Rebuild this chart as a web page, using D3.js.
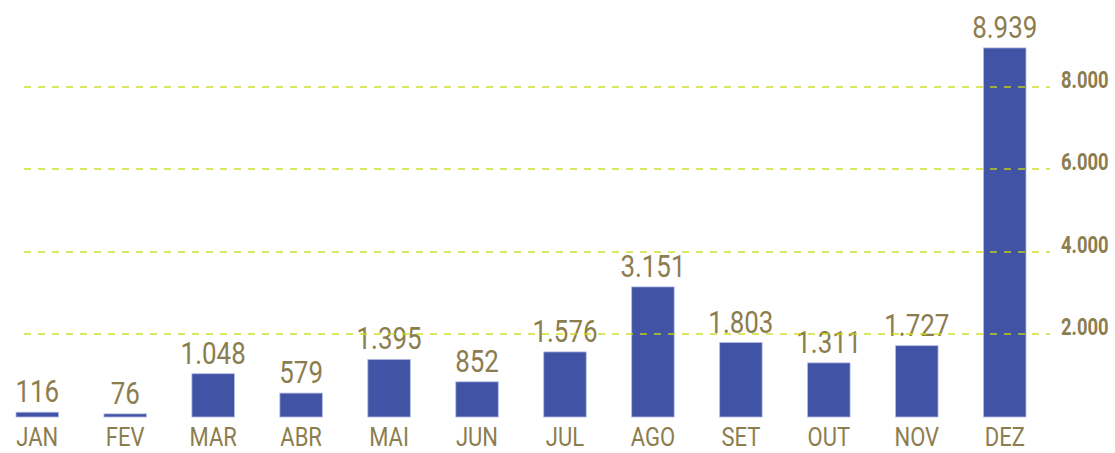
<!DOCTYPE html>
<html>
<head>
<meta charset="utf-8">
<script src="https://cdn.jsdelivr.net/npm/d3@7"></script>
<style>
  body { margin: 0; background: #fff; }
  svg { display: block; font-family: "Roboto", "Liberation Sans", sans-serif; }
</style>
</head>
<body>
<div id="chart"></div>
<script>
// months and totals
const months = ['JAN', 'FEV', 'MAR', 'ABR', 'MAI', 'JUN', 'JUL', 'AGO', 'SET', 'OUT', 'NOV', 'DEZ'];
const totals = [116, 76, 1048, 579, 1395, 852, 1576, 3151, 1803, 1311, 1727, 8939];
const yTicks = [2000, 4000, 6000, 8000];

const width = 1115, height = 453;
const textColor = '#8c7d4f';
const barColor = '#4053a4';
const gridColor = '#c9dc1c';

// pt-BR style numbers: 8.939
const locale = d3.formatLocale({ decimal: ',', thousands: '.', grouping: [3], currency: ['', ''] });
const fmt = locale.format(',');

const svg = d3.select('#chart')
    .append('svg')
    .attr('width', width)
    .attr('height', height);

const data = months.map((m, i) => [m, totals[i]]);

// horizontal scale
const scaleX = d3.scaleBand()
    .domain(months)
    .range([16, 1026])
    .paddingInner(0.517)
    .paddingOuter(0);

// vertical scale
const scaleY = d3.scaleLinear()
    .domain([0, 8000])
    .range([417, 86.7]);

const cx = d => scaleX(d) + scaleX.bandwidth() / 2;

// bars
svg.append('g')
    .selectAll('rect')
    .data(data)
    .join('rect')
    .attr('x', d => scaleX(d[0]))
    .attr('y', d => scaleY(d[1]))
    .attr('width', scaleX.bandwidth())
    .attr('height', d => scaleY(0) - scaleY(d[1]))
    .style('fill', barColor)
    .style('stroke', '#b3bbe3')
    .style('stroke-width', 0.8);

// value labels above bars (condensed look: squeeze horizontally)
svg.append('g')
    .selectAll('text')
    .data(data)
    .join('text')
    .attr('transform', d => `translate(${cx(d[0])},${scaleY(d[1]) - 10}) scale(0.81,1)`)
    .attr('text-anchor', 'middle')
    .style('font-size', '32px')
    .style('fill', textColor)
    .text(d => fmt(d[1]));

// dashed grid, drawn over the bars
svg.append('g')
    .selectAll('line')
    .data(yTicks)
    .join('line')
    .attr('x1', 24)
    .attr('x2', 1050)
    .attr('y1', d => Math.round(scaleY(d)))
    .attr('y2', d => Math.round(scaleY(d)))
    .style('stroke', gridColor)
    .style('stroke-width', 1.6)
    .style('stroke-dasharray', '7,7')
    .style('opacity', 0.9);

// right side tick labels
svg.append('g')
    .selectAll('text')
    .data(yTicks)
    .join('text')
    .attr('transform', d => `translate(1061,${scaleY(d) + 1}) scale(0.8,1)`)
    .style('font-size', '23px')
    .style('font-weight', 'bold')
    .style('fill', textColor)
    .text(d => fmt(d));

// month labels
svg.append('g')
    .selectAll('text')
    .data(months)
    .join('text')
    .attr('transform', d => `translate(${cx(d)},446) scale(0.88,1)`)
    .attr('text-anchor', 'middle')
    .style('font-size', '25px')
    .style('fill', textColor)
    .text(d => d);
</script>
</body>
</html>
